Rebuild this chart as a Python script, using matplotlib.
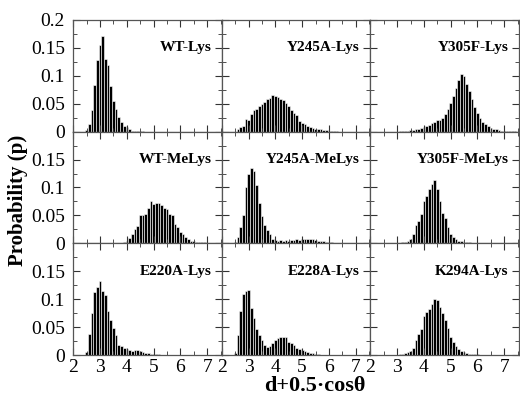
import numpy as np
import matplotlib
matplotlib.use('Agg')
import matplotlib.pyplot as plt
from matplotlib.ticker import MultipleLocator, FormatStrFormatter

plt.rcParams['font.family'] = ['Liberation Serif', 'DejaVu Serif']

# panel names, laid out row by row
names = ['WT-Lys', 'Y245A-Lys', 'Y305F-Lys',
         'WT-MeLys', 'Y245A-MeLys', 'Y305F-MeLys',
         'E220A-Lys', 'E228A-Lys', 'K294A-Lys']

# centre of first bin for each panel (bins are 0.1 wide)
starts = [2.5, 2.6, 3.1,
          3.9, 2.5, 3.2,
          2.5, 2.5, 3.1]

# probabilities
wt_lys = [0.003, 0.013, 0.038, 0.084, 0.128, 0.156, 0.171, 0.130, 0.120, 0.082,
          0.055, 0.040, 0.027, 0.018, 0.011, 0.008, 0.004, 0.002, 0.001, 0.001,
          0.001, 0.001]
y245a_lys = [0.005, 0.008, 0.011, 0.022, 0.021, 0.032, 0.038, 0.041, 0.046, 0.050,
             0.054, 0.058, 0.061, 0.065, 0.064, 0.062, 0.059, 0.057, 0.052, 0.046,
             0.038, 0.034, 0.029, 0.019, 0.016, 0.014, 0.011, 0.009, 0.007, 0.005,
             0.004, 0.004, 0.003, 0.003, 0.002, 0.002, 0.001, 0.001]
y305f_lys = [0.001, 0.001, 0.002, 0.002, 0.003, 0.003, 0.004, 0.005, 0.006, 0.008,
             0.010, 0.012, 0.015, 0.018, 0.021, 0.020, 0.025, 0.031, 0.040, 0.052,
             0.064, 0.079, 0.092, 0.103, 0.099, 0.086, 0.072, 0.058, 0.045, 0.034,
             0.024, 0.018, 0.013, 0.010, 0.007, 0.005, 0.004, 0.003, 0.002, 0.002,
             0.001, 0.001, 0.001, 0.001]
wt_melys = [0.003, 0.005, 0.010, 0.017, 0.025, 0.031, 0.051, 0.051, 0.052, 0.064,
            0.075, 0.071, 0.072, 0.073, 0.069, 0.064, 0.061, 0.052, 0.051, 0.034,
            0.029, 0.021, 0.016, 0.011, 0.007, 0.005, 0.004, 0.003, 0.002, 0.002,
            0.002, 0.001, 0.001, 0.001, 0.001, 0.001]
y245a_melys = [0.002, 0.011, 0.030, 0.050, 0.100, 0.124, 0.135, 0.130, 0.104, 0.073,
               0.049, 0.033, 0.023, 0.017, 0.008, 0.006, 0.005, 0.006, 0.005, 0.006,
               0.005, 0.006, 0.006, 0.007, 0.006, 0.007, 0.007, 0.007, 0.008, 0.007,
               0.006, 0.005, 0.004, 0.004, 0.003, 0.002, 0.002, 0.001, 0.001]
y305f_melys = [0.002, 0.003, 0.005, 0.008, 0.017, 0.033, 0.040, 0.052, 0.075, 0.085,
               0.097, 0.107, 0.114, 0.097, 0.076, 0.054, 0.046, 0.029, 0.017, 0.011,
               0.007, 0.005, 0.004, 0.003, 0.002, 0.002, 0.001, 0.001]
e220a_lys = [0.005, 0.038, 0.075, 0.112, 0.122, 0.132, 0.114, 0.107, 0.079, 0.063,
             0.048, 0.035, 0.018, 0.017, 0.012, 0.011, 0.009, 0.008, 0.009, 0.009,
             0.008, 0.006, 0.004, 0.003, 0.002, 0.002, 0.001, 0.001]
e228a_lys = [0.004, 0.036, 0.079, 0.109, 0.114, 0.116, 0.085, 0.067, 0.046, 0.035,
             0.026, 0.018, 0.014, 0.017, 0.021, 0.026, 0.031, 0.033, 0.033, 0.033,
             0.023, 0.021, 0.018, 0.013, 0.011, 0.009, 0.007, 0.005, 0.004, 0.003,
             0.002, 0.001]
k294a_lys = [0.001, 0.002, 0.003, 0.005, 0.008, 0.013, 0.026, 0.038, 0.046, 0.069,
             0.077, 0.083, 0.091, 0.100, 0.098, 0.086, 0.075, 0.063, 0.048, 0.032,
             0.024, 0.017, 0.011, 0.007, 0.005, 0.003, 0.002, 0.002, 0.001, 0.001]

data = [wt_lys, y245a_lys, y305f_lys,
        wt_melys, y245a_melys, y305f_melys,
        e220a_lys, e228a_lys, k294a_lys]

fig, axes = plt.subplots(3, 3, figsize=(5.2, 4.0), dpi=100)
fig.subplots_adjust(left=0.141, right=0.998, top=0.95, bottom=0.1125, wspace=0, hspace=0)

for i, ax in enumerate(axes.flat):
    row, col = divmod(i, 3)
    vals = data[i]
    x = starts[i] + 0.1 * np.arange(len(vals))
    ax.bar(x, vals, width=0.1, color='black', edgecolor='white', linewidth=0.4)
    ax.text(0.93, 0.75, names[i], transform=ax.transAxes, ha='right', va='center',
            fontsize=11, fontweight='bold')
    ax.set_xlim(2, 7.55)
    ax.xaxis.set_major_locator(MultipleLocator(1))
    ax.xaxis.set_minor_locator(MultipleLocator(0.5))
    if row == 0:
        ax.set_yticks([0, 0.05, 0.1, 0.15, 0.2])
    else:
        ax.set_yticks([0, 0.05, 0.1, 0.15])
    ax.set_ylim(0, 0.2)
    ax.yaxis.set_minor_locator(MultipleLocator(0.025))
    ax.yaxis.set_major_formatter(FormatStrFormatter('%g'))
    ax.tick_params(which='both', direction='in', top=True, right=True,
                   labelsize=14, color='#333333')
    ax.tick_params(axis='y', pad=6)
    ax.tick_params(axis='x', pad=3)
    ax.tick_params(which='major', length=5)
    ax.tick_params(which='minor', length=3)
    if col > 0:
        ax.tick_params(labelleft=False)
    if row < 2:
        ax.tick_params(labelbottom=False)
    for s in ax.spines.values():
        s.set_color('#555555')
        s.set_linewidth(0.9)

fig.text(0.035, 0.5, 'Probability (p)', rotation=90, ha='center', va='center',
         fontsize=15, fontweight='bold')
fig.text(0.606, 0.035, 'd+0.5\u00b7cos\u03b8', ha='center', va='center',
         fontsize=16, fontweight='bold')

plt.savefig('out.png', dpi=100)
plt.close()
